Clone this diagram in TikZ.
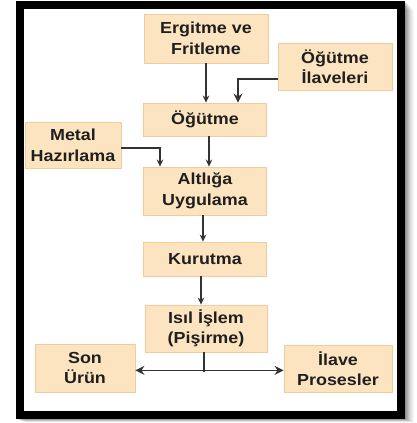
\documentclass[tikz,border=0pt]{standalone}
\usepackage{fontspec}
\setmainfont{Liberation Sans}[FakeStretch=1.12]
\usetikzlibrary{arrows.meta}
\definecolor{boxfill}{HTML}{FDE4C1}
\definecolor{boxline}{HTML}{F2CB9E}
\definecolor{inktext}{HTML}{1F1F1F}
\definecolor{wire}{HTML}{333333}
\tikzset{
  procbox/.style={draw=boxline, line width=0.8pt, fill=boxfill, inner sep=0pt,
    align=center, text=inktext,
    font=\fontsize{16}{20.5}\selectfont\bfseries},
  flow/.style={draw=wire, line width=1.2pt, -{Stealth[length=7pt,width=6.5pt]}},
  bigflow/.style={draw=wire, line width=1.4pt, -{Stealth[length=9pt,width=9pt]}},
}
\begin{document}
\begin{tikzpicture}[x=1pt,y=-1pt]
\useasboundingbox (0,0) rectangle (417,423);
% soft drop shadow of the frame
\foreach \o/\a in {1/0.10,2/0.09,3/0.08,4/0.07,5/0.06,6/0.05,7/0.04,8/0.03,9/0.02,10/0.01}{
  \fill[black, opacity=\a] (16+\o,1+\o) rectangle (405+\o,419+0.4*\o);
}
% frame
\fill[white] (16,1) rectangle (405,419);
\draw[black, line width=8pt] (20,5) rectangle (401,415);

% process boxes
\node[procbox, minimum width=124pt, minimum height=49pt] (erg) at (206,38.5) {Ergitme ve\\Fritleme};
\node[procbox, minimum width=114pt, minimum height=47pt] (ila) at (335,66.5) {Öğütme\\İlaveleri};
\node[procbox, minimum width=123pt, minimum height=33pt] (ogu) at (205,119.5) {Öğütme};
\node[procbox, minimum width=96pt, minimum height=46pt] (met) at (73,145.5) {Metal\\Hazırlama};
\node[procbox, minimum width=123pt, minimum height=48pt] (alt) at (205,191) {Altlığa\\Uygulama};
\node[procbox, minimum width=123pt, minimum height=34pt] (kur) at (205,259) {Kurutma};
\node[procbox, minimum width=122pt, minimum height=47pt] (isi) at (206,328.5) {Isıl İşlem\\(Pişirme)};
\node[procbox, minimum width=100pt, minimum height=48pt] (son) at (85,368) {Son\\Ürün};
\node[procbox, minimum width=108pt, minimum height=47pt] (pro) at (338,368.5) {İlave\\Prosesler};

% connectors
\draw[flow] (erg.south) -- (erg.south |- ogu.north);
\draw[bigflow] ([yshift=-12.5pt]ila.west) -| ([xshift=33pt]ogu.north);
\draw[flow] ([xshift=4pt]ogu.south) -- ([xshift=4pt]alt.north);
\draw[flow] ([yshift=-2.5pt]met.east) -| ([xshift=-45pt]alt.north);
\draw[flow] ([xshift=-2pt]alt.south) -- ([xshift=-2pt]kur.north);
\draw[flow] ([xshift=-4pt]kur.south) -- ([xshift=-5pt]isi.north);
\coordinate (split) at ([xshift=-2pt,yshift=-18pt]isi.south);
\draw[draw=wire, line width=1.6pt] ([xshift=-2pt]isi.south) -- ([yshift=-2pt]split);
\draw[bigflow] (split) -- (split -| son.east);
\draw[bigflow] (split) -- (split -| pro.west);
\end{tikzpicture}
\end{document}
